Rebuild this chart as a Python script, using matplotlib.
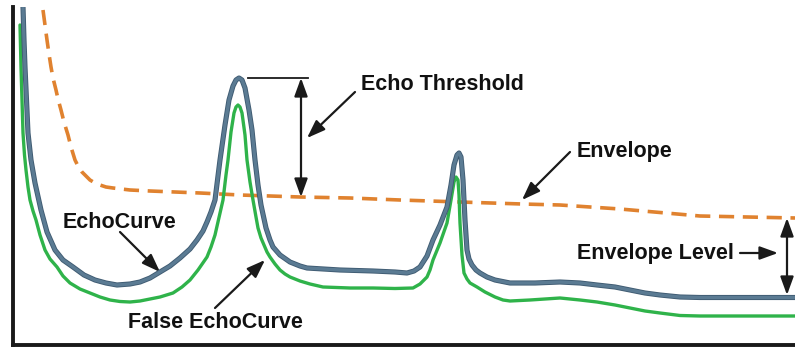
import matplotlib
matplotlib.use("Agg")
import matplotlib.pyplot as plt

# Echo curve (distance, amplitude)
echo_x = [9.5, 10, 11, 12, 13.5, 15, 18, 22, 28, 34, 42, 50, 60, 71, 82, 93, 104, 117, 127, 137,
          147, 157, 167, 177, 184, 190, 194, 198, 202, 207, 212, 216, 220, 223, 226, 229, 232, 236, 239, 242,
          245, 248, 253, 257, 260, 267, 277, 287, 294, 327, 360, 382, 394, 401, 407, 414, 420, 427, 434, 438,
          441, 444, 446, 448, 450, 452, 454, 456, 459, 463, 467, 474, 482, 497, 522, 547, 567, 584, 602, 617,
          632, 647, 667, 687, 782]
echo_y = [355, 338, 305, 278, 245, 212, 185, 162, 135, 113, 95, 85, 78, 70, 65, 62, 60, 61, 63, 67,
          73, 79, 87, 96, 105, 114, 123, 133, 145, 185, 220, 245, 259, 265, 267, 265, 257, 235, 215, 185,
          160, 140, 117, 105, 98, 90, 83, 79, 77, 75, 74, 73, 72, 74, 78, 89, 105, 120, 138, 160,
          180, 190, 192, 188, 165, 125, 95, 86, 80, 75, 72, 68, 65, 62, 62, 63, 62, 60, 58, 55,
          52, 50, 48, 47.5, 47.5]

# False echo curve
false_x = [7, 8, 9, 10, 11.5, 13, 15, 17, 20, 23, 27, 32, 37, 44, 50, 57, 67, 77, 87, 97,
           107, 117, 127, 137, 147, 160, 169, 177, 185, 194, 198, 202, 210, 213, 215, 218, 221, 223, 225, 227,
           229, 232, 234, 237, 240, 243, 245, 248, 251, 254, 257, 262, 267, 272, 277, 287, 297, 310, 337, 360,
           382, 400, 407, 414, 417, 420, 427, 434, 438, 441, 443, 445, 446, 447, 449, 451, 454, 457, 464, 472,
           482, 490, 497, 517, 547, 567, 584, 602, 617, 632, 647, 667, 687, 782]
false_y = [320, 278, 245, 212, 190, 175, 158, 145, 134, 125, 110, 95, 86, 78, 69, 62, 56, 52, 48, 45,
           43.5, 43, 44, 46, 48, 52, 58, 65, 75, 88, 98, 110, 145, 170, 185, 213, 232, 238, 240, 238,
           232, 210, 185, 163, 145, 128, 117, 107, 100, 93, 88, 81, 75, 71, 68, 64, 61, 58, 57, 57,
           56.5, 57, 61, 68, 75, 85, 102, 122, 145, 163, 168, 165, 150, 122, 90, 72, 66, 62, 58, 53,
           48, 45, 44, 45, 47, 45, 43, 40, 37, 34, 32, 29.5, 29, 29]

# Envelope
env_x = [30, 32, 34, 36, 38, 40, 43, 45, 48, 51, 55, 58, 62, 65, 69, 73, 77, 82, 87, 93,
         100, 117, 137, 187, 227, 287, 337, 387, 447, 509, 547, 607, 687, 782]
env_y = [335, 320, 305, 291, 278, 267, 255, 246, 235, 223, 210, 198, 185, 179, 173, 169, 165, 162, 160, 158,
         157, 155, 154, 152, 150, 148, 147, 145, 143, 141, 140, 136, 129, 127]

labels = ["Echo Threshold", "Envelope", "Envelope Level", "EchoCurve", "False EchoCurve"]

W, H = 795, 348
fig = plt.figure(figsize=(W / 100, H / 100), dpi=100)
ax = fig.add_axes([13 / W, 3 / H, 1 - 13 / W, (345 - 7) / H])
ax.set_xlim(0, 782)
ax.set_ylim(0, 338)
for s in ["top", "right"]:
    ax.spines[s].set_visible(False)
for s in ["left", "bottom"]:
    ax.spines[s].set_linewidth(2.8)
    ax.spines[s].set_color("#1a1a1a")
ax.set_xticks([])
ax.set_yticks([])

ax.plot(env_x, env_y, color="#e0822f", lw=2.6, linestyle=(0, (4.2, 2.4)), dash_capstyle="butt", zorder=2)
ax.plot(false_x, false_y, color="#2fb34a", lw=2.4, solid_capstyle="round", solid_joinstyle="round", zorder=3)
ax.plot(echo_x, echo_y, color="#3f5b72", lw=3.7, solid_joinstyle="round", zorder=4)
ax.plot(echo_x, echo_y, color="#5b7b93", lw=2.4, solid_joinstyle="round", zorder=4)

tk = dict(fontsize=15.5, fontweight="bold", family="Liberation Sans", color="#111111",
          ha="center", va="center")
hs = "head_length=0.55,head_width=0.2"
ap = dict(arrowstyle="-|>," + hs, color="#1a1a1a", lw=1.6, mutation_scale=20, shrinkA=0, shrinkB=0)
ap2 = dict(arrowstyle="<|-|>," + hs, color="#1a1a1a", lw=1.6, mutation_scale=20, shrinkA=0, shrinkB=0)

# Echo threshold
ax.plot([235, 295], [267, 267], color="#1a1a1a", lw=1.3, zorder=5)
ax.annotate("", xy=(288, 148), xytext=(288, 267), arrowprops=ap2)
ax.text(429, 261, labels[0], **tk)
ax.annotate("", xy=(294, 207), xytext=(342, 253), arrowprops=ap)

# Envelope
ax.text(612, 193, labels[1], **tk)
ax.annotate("", xy=(509, 145), xytext=(557, 193), arrowprops=ap)

# Envelope level
ax.text(642, 92, labels[2], **tk)
ax.annotate("", xy=(765, 92), xytext=(727, 92), arrowprops=ap)
ax.annotate("", xy=(774, 50), xytext=(774, 127), arrowprops=ap2)

# EchoCurve
ax.text(106, 123, labels[3], **tk)
ax.annotate("", xy=(147, 73), xytext=(107, 113), arrowprops=ap)

# False EchoCurve
ax.text(202, 22, labels[4], **tk)
ax.annotate("", xy=(252, 85), xytext=(202, 37), arrowprops=ap)

fig.savefig("out.png", dpi=100)
